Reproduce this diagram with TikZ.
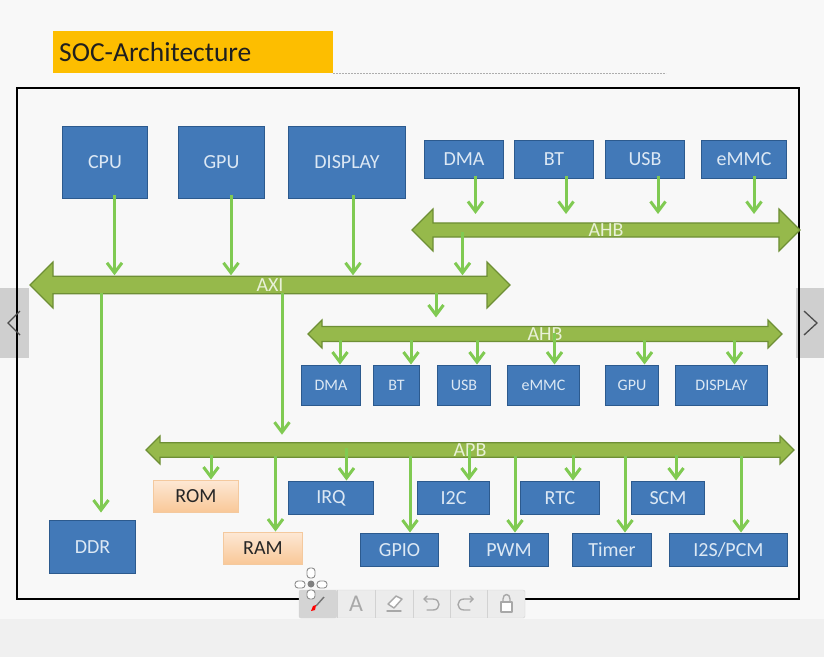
\documentclass[tikz,border=0pt]{standalone}
\usepackage{fontspec}
\setmainfont{Carlito}
\usetikzlibrary{arrows.meta,shapes.arrows}

\definecolor{pagebg}{HTML}{F8F8F8}
\definecolor{bandbg}{HTML}{F0F0F0}
\definecolor{tabgrey}{HTML}{CFCFCF}
\definecolor{titlefill}{HTML}{FDBE00}
\definecolor{boxblue}{HTML}{4279B8}
\definecolor{boxedge}{HTML}{2C5A8E}
\definecolor{boxtext}{HTML}{DCE8F4}
\definecolor{barfill}{HTML}{96B94B}
\definecolor{baredge}{HTML}{6E8F35}
\definecolor{bartext}{HTML}{E9F1D8}
\definecolor{flowgreen}{HTML}{80CA52}
\definecolor{romtop}{HTML}{FDE8D4}
\definecolor{rombot}{HTML}{F9C797}
\definecolor{romedge}{HTML}{F4C99E}
\definecolor{toolfill}{HTML}{ECECEC}
\definecolor{tooledge}{HTML}{D2D2D2}
\definecolor{toolink}{HTML}{A8A8A8}

\tikzset{
  block/.style={rectangle,inner sep=0pt,outer sep=0pt,draw=boxedge,line width=1pt,
    fill=boxblue,text=boxtext},
  memblock/.style={rectangle,inner sep=0pt,outer sep=0pt,draw=romedge,line width=1pt,
    top color=romtop,bottom color=rombot,text=black!85},
  busbar/.style={double arrow,double arrow tip angle=90,inner sep=0pt,outer sep=0pt,
    draw=baredge,line width=1.2pt,fill=barfill,text=bartext,font=\fontsize{20}{20}\selectfont},
  flowline/.style={draw=flowgreen,line width=3pt,
    -{Straight Barb[length=10pt,width=15pt,line width=3pt]}},
  bigtext/.style={font=\fontsize{20}{22}\selectfont},
  smalltext/.style={font=\fontsize{16}{18}\selectfont},
  toolicon/.style={draw=toolink,line width=1.4pt,line cap=round,line join=round},
}

% a box given by its corners: style, name, x1, y1, x2, y2, label
\newcommand\boxat[7]{%
  \node[#1,minimum width={(#5-#3-1)*1pt},minimum height={(#6-#4-1)*1pt}]
    (#2) at ({(#3+#5)/2},{(#4+#6)/2}) {#7};}
% a vertical flow at column x, from node anchor to node anchor,
% starting inside the source and stopping short of the target
\newcommand\flowat[5]{%
  \coordinate (col) at (#1,0);
  \draw[flowline] ([yshift=#4pt]col |- #2) -- ([yshift=#5pt]col |- #3);}

\begin{document}
\begin{tikzpicture}[x=1pt,y=-1pt]
\useasboundingbox (0,0) rectangle (824,657);
\fill[pagebg] (0,0) rectangle (824,657);
\fill[bandbg] (0,619) rectangle (824,657);

% side navigation tabs
\fill[tabgrey] (0,288) rectangle (29,358);
\fill[tabgrey] (796,288) rectangle (824,358);

% heading
\node[rectangle,fill=titlefill,inner sep=0pt,outer sep=0pt,minimum width=280pt,minimum height=42pt,
  anchor=north west] (title) at (53,31) {};
\node[anchor=west,inner sep=0pt,text=black!88,font=\fontsize{27.5}{29}\selectfont]
  (titletext) at (59,52) {SOC-Architecture};
\coordinate (ruleend) at (666,73);
\draw[black!32,line width=1pt,dash pattern=on 2pt off 1pt] (title.south east) -- (ruleend);

% outer frame
\node[rectangle,draw=black,line width=2.2pt,inner sep=0pt,outer sep=0pt,
  minimum width=782pt,minimum height=511pt,anchor=north west] (frame) at (17,88) {};

% chevrons on the tabs
\draw[black!70,line width=1.3pt] (20,311) -- (8,323) -- (20,335);
\draw[black!70,line width=1.3pt] (804,311) -- (817,323) -- (804,335);

% buses
\node[busbar,double arrow head extend=14pt,minimum width=28pt,minimum height=388pt] (ahbtop) at (606,230) {AHB};
\node[busbar,double arrow head extend=11.5pt,minimum width=46pt,minimum height=480pt] (axi) at (270,285) {AXI};
\node[busbar,double arrow head extend=6pt,minimum width=28pt,minimum height=474pt] (ahbmid) at (545,334) {AHB};
\node[busbar,double arrow head extend=6.5pt,minimum width=28pt,minimum height=648pt] (apb) at (470,450) {APB};

% masters
\begin{scope}[bigtext]
\boxat{block}{cpu}{62}{126}{148}{199}{CPU}
\boxat{block}{gpu}{178}{126}{265}{199}{GPU}
\boxat{block}{display}{288}{126}{406}{199}{DISPLAY}
\boxat{block}{dma}{424}{140}{504}{179}{DMA}
\boxat{block}{bt}{514}{140}{594}{179}{BT}
\boxat{block}{usb}{605}{140}{685}{179}{USB}
\boxat{block}{emmc}{701}{140}{787}{179}{eMMC}
\end{scope}

% slaves on the middle bus
\begin{scope}[smalltext]
\boxat{block}{sdma}{301}{365}{361}{406}{DMA}
\boxat{block}{sbt}{373}{365}{420}{406}{BT}
\boxat{block}{susb}{437}{365}{491}{406}{USB}
\boxat{block}{semmc}{507}{365}{580}{406}{eMMC}
\boxat{block}{sgpu}{605}{365}{659}{406}{GPU}
\boxat{block}{sdisplay}{675}{365}{768}{406}{DISPLAY}
\end{scope}

% memories and peripherals
\begin{scope}[bigtext]
\boxat{block}{ddr}{49}{520}{136}{574}{DDR}
\boxat{memblock}{rom}{153}{480}{239}{513}{ROM}
\boxat{memblock}{ram}{223}{532}{303}{565}{RAM}
\boxat{block}{irq}{288}{481}{374}{515}{IRQ}
\boxat{block}{iic}{417}{481}{490}{515}{I2C}
\boxat{block}{rtc}{520}{481}{600}{515}{RTC}
\boxat{block}{scm}{631}{481}{705}{515}{SCM}
\boxat{block}{gpio}{360}{533}{439}{567}{GPIO}
\boxat{block}{pwm}{469}{533}{549}{567}{PWM}
\boxat{block}{timer}{572}{533}{652}{567}{Timer}
\boxat{block}{iis}{669}{533}{788}{567}{I2S/PCM}
\end{scope}

% connections into the buses
\flowat{114.5}{cpu.south}{axi.north}{4}{1}
\flowat{231}{gpu.south}{axi.north}{4}{1}
\flowat{353}{display.south}{axi.north}{4}{1}
\flowat{475.5}{dma.south}{ahbtop.north}{3}{9}
\flowat{566}{bt.south}{ahbtop.north}{3}{9}
\flowat{658}{usb.south}{ahbtop.north}{3}{9}
\flowat{754}{emmc.south}{ahbtop.north}{3}{9}

% bridges between buses
\flowat{462.5}{ahbtop.south}{axi.north}{5}{1}
\flowat{436}{axi.south}{ahbmid.north}{1}{9}
\flowat{101}{axi.south}{ddr.north}{1}{8}
\flowat{282}{axi.south}{apb.north}{1}{8}

% connections out of the middle bus
\flowat{340}{ahbmid.south}{sdma.north}{2}{1}
\flowat{411}{ahbmid.south}{sbt.north}{2}{1}
\flowat{477}{ahbmid.south}{susb.north}{2}{1}
\flowat{554.5}{ahbmid.south}{semmc.north}{9}{1}
\flowat{644.5}{ahbmid.south}{sgpu.north}{2}{1}
\flowat{734.5}{ahbmid.south}{sdisplay.north}{2}{1}

% connections out of the lower bus
\flowat{211}{apb.south}{rom.north}{2}{1}
\flowat{275.5}{apb.south}{ram.north}{1}{1}
\flowat{346.5}{apb.south}{irq.north}{9}{1}
\flowat{410}{apb.south}{gpio.north}{1}{1}
\flowat{469}{apb.south}{iic.north}{9}{1}
\flowat{515}{apb.south}{pwm.north}{1}{1}
\flowat{573}{apb.south}{rtc.north}{2}{1}
\flowat{625}{apb.south}{timer.north}{1}{1}
\flowat{676}{apb.south}{scm.north}{2}{1}
\flowat{741}{apb.south}{iis.north}{1}{1}

% annotation toolbar
\fill[toolfill,rounded corners=2pt] (299,590) rectangle (525,618);
\draw[tooledge,rounded corners=2pt] (299,590) rectangle (525,618);
\fill[black!17,rounded corners=2pt] (299,590) rectangle (337,618);
\foreach \sx in {337,375,413,450,487}{\draw[tooledge,line width=1pt] (\sx,590) -- (\sx,618);}
% pen
\draw[black!55,line width=1.4pt] (324,597) -- (316,606);
\fill[red] (316,605) -- (313,606) -- (311,611) -- (315,610) -- cycle;
% text tool
\node[inner sep=0pt,text=toolink,font=\fontsize{24}{24}\selectfont] (tooltext) at (356,604) {A};
% eraser
\draw[toolicon,fill=white] (388,604) -- (396,596) -- (402,599) -- (394,608) -- cycle;
\draw[toolicon] (387,611) -- (401,611);
% undo and redo
\draw[toolicon] (424,599) -- (433,599) .. controls (441,599) and (441,610) .. (433,610) -- (427,610);
\draw[toolicon] (427,596) -- (424,599) -- (427,602);
\draw[toolicon] (473,599) -- (464,599) .. controls (456,599) and (456,610) .. (464,610) -- (470,610);
\draw[toolicon] (470,596) -- (473,599) -- (470,602);
% lock
\draw[toolicon,fill=white] (501,602) rectangle (512,612);
\draw[toolicon] (503,602) -- (503,599) .. controls (503,593) and (510,593) .. (510,599) -- (510,602);
% move handle above the toolbar
\begin{scope}[draw=black!45,fill=white,line width=0.9pt,rounded corners=3pt]
\filldraw (307,568) rectangle (315,578);
\filldraw (307,590) rectangle (315,599);
\filldraw (295,581) rectangle (305,588);
\filldraw (317,581) rectangle (327,588);
\end{scope}
\fill[black!50] (311,584) circle (3.5);
\end{tikzpicture}
\end{document}
